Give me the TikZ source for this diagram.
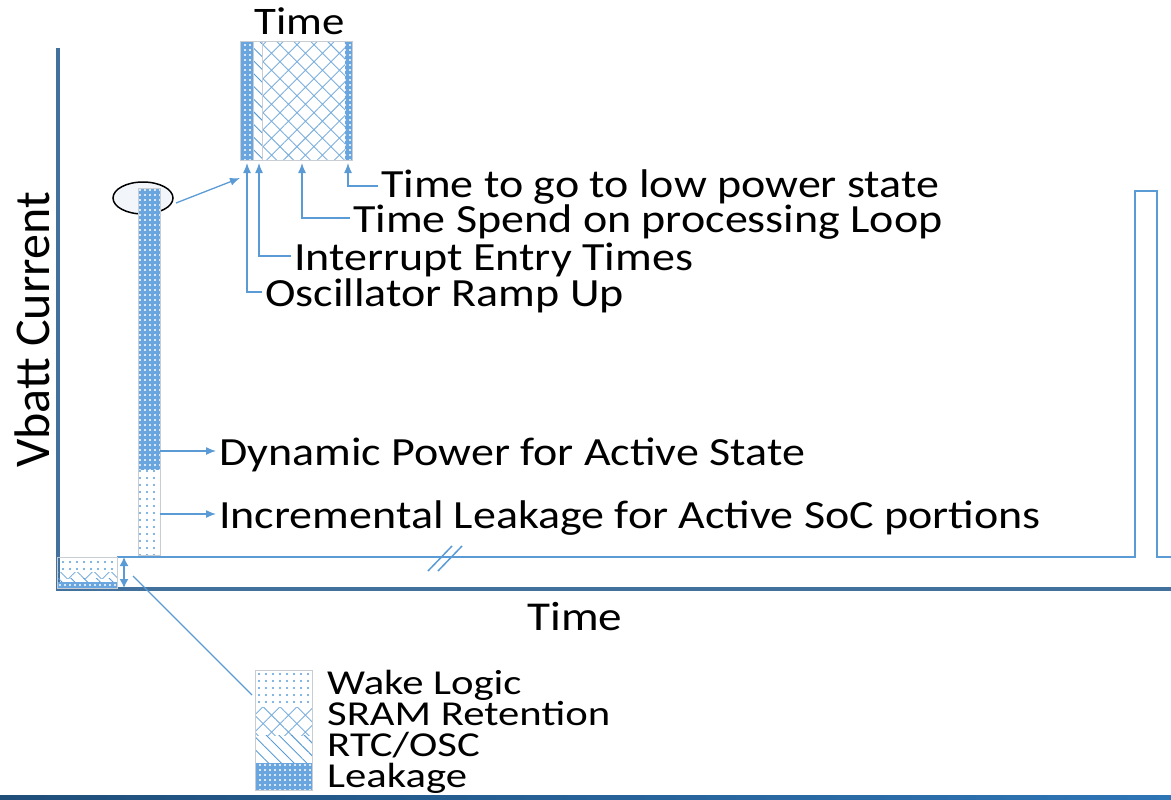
\documentclass[tikz,border=0pt]{standalone}
\usepackage{fontspec}
\setmainfont{Carlito}
\newfontfamily\widefont[FakeStretch=1.15]{Carlito}
\newfontfamily\legfont[FakeStretch=1.22]{Carlito}
\usetikzlibrary{patterns.meta,arrows.meta,positioning}

\definecolor{axisblue}{RGB}{65,113,156}
\definecolor{lineblue}{RGB}{91,155,213}
\definecolor{barblue}{RGB}{105,165,222}
\definecolor{edgegray}{RGB}{200,205,212}
\definecolor{palefill}{RGB}{242,246,251}
\definecolor{deepblue}{RGB}{31,78,121}
\definecolor{brightblue}{RGB}{46,117,182}

\tikzset{
  sig/.style={draw=lineblue, line width=1.5},
  callout/.style={draw=lineblue, line width=1.3, -{Latex[length=10,width=8]}},
  lbl/.style={font=\widefont\fontsize{40}{42}\selectfont, inner xsep=3, inner ysep=0, text height=28, text depth=0, anchor=west},
  legtext/.style={font=\legfont\fontsize{35}{37}\selectfont, inner xsep=2, inner ysep=0, text height=23, text depth=4, anchor=west},
  dense/.style={fill=barblue, postaction={pattern={Dots[distance=5pt,radius=1.1pt]}, pattern color=white}},
  dotty/.style={pattern={Dots[distance=7pt,radius=1.1pt]}, pattern color=lineblue},
  xhatch/.style={pattern={Hatch[angle=45,distance=12pt,line width=0.9pt]}, pattern color=lineblue!80},
  slant/.style={pattern={Lines[angle=-45,distance=9pt,line width=0.9pt]}, pattern color=lineblue},
  rim/.style={draw=edgegray, line width=1}
}

\begin{document}
\begin{tikzpicture}[x=1pt,y=-1pt]
\useasboundingbox (0,0) rectangle (1171,800);

% axes
\draw [axisblue, line width=4] (58,48) -- (58,589) -- (1171,589);

% baseline current with break and far spike
\draw [sig] (117,557) -- (1135,557) -- (1135,191) -- (1157,191) -- (1157,557) -- (1171,557);
\draw [sig] (428,571) -- (452,546);
\draw [sig] (438,571) -- (462,546);

% sleep floor box
\fill [dotty] (57,557) rectangle (117,572);
\fill [xhatch] (57,572) rectangle (117,578);
\fill [slant] (57,578) rectangle (117,582);
\fill [dense] (57,582) rectangle (117,588);
\draw [rim] (57,557) rectangle (117,588);
\coordinate (sleepTop) at (124,557);
\coordinate (sleepBot) at (124,588);
\draw [lineblue, line width=1.5, {Latex[length=9,width=9]}-{Latex[length=9,width=9]}] (sleepTop) -- (sleepBot);

% ellipse round the top of the active bar
\draw [black, line width=1.5, fill=palefill] (143,198) ellipse [x radius=30, y radius=16];

% active bar
\fill [dense] (138,188) rectangle (160,470);
\fill [dotty] (138,470) rectangle (160,555);
\draw [rim] (138,188) rectangle (160,555);

% zoomed bar
\fill [dense] (240,42) rectangle (253,160);
\fill [slant] (253,42) rectangle (262,160);
\fill [xhatch] (262,42) rectangle (345,160);
\fill [dense] (345,42) rectangle (352,160);
\draw [rim] (240,42) rectangle (352,160);
\draw [edgegray] (253,42) -- (253,160);
\draw [edgegray] (262,42) -- (262,160);
\node (tTop) at (300,21) [font=\widefont\fontsize{39}{41}\selectfont] {Time};

\coordinate (ellR) at (176,203);
\coordinate (zoomIn) at (240,178);
\draw [callout] (ellR) -- (zoomIn);

% phase labels
\node (tLow) at (378,186) [lbl, text height=22] {Time to go to low power state};
\node (tLoop) at (350,218) [lbl] {Time Spend on processing Loop};
\node (tIrq) at (291,256) [lbl] {Interrupt Entry Times};
\node (tOsc) at (262,292) [lbl] {Oscillator Ramp Up};
\coordinate (pLow) at (348,163);
\coordinate (pLoop) at (302,163);
\coordinate (pIrq) at (259,163);
\coordinate (pOsc) at (247,163);
\draw [callout] (tLow.west) -| (pLow);
\draw [callout] (tLoop.west) -| (pLoop);
\draw [callout] (tIrq.west) -| (pIrq);
\draw [callout] (tOsc.west) -| (pOsc);

% active bar labels
\node (tDyn) at (216,451) [lbl] {Dynamic Power for Active State};
\node (tLeak) at (216,514) [lbl] {Incremental Leakage for Active SoC portions};
\coordinate (bDyn) at (160,451);
\coordinate (bLeak) at (160,514);
\draw [callout] (bDyn) -- (tDyn.west);
\draw [callout] (bLeak) -- (tLeak.west);

% axis titles
\node (tTime) at (575,617) [font=\widefont\fontsize{41}{43}\selectfont] {Time};
\node (tVbatt) at (32,330) [font=\fontsize{50}{52}\selectfont, rotate=90] {Vbatt Current};

% legend
\fill [dotty] (255,670) rectangle (312,707);
\fill [xhatch] (255,707) rectangle (312,735);
\fill [slant] (255,735) rectangle (312,763);
\fill [dense] (255,763) rectangle (312,790);
\draw [rim] (255,670) rectangle (312,790);
\node (lgWake) at (325,685) [legtext] {Wake Logic};
\node (lgSram) at (325,716) [legtext] {SRAM Retention};
\node (lgRtc) at (325,747) [legtext] {RTC/OSC};
\node (lgLeak) at (325,778) [legtext] {Leakage};
\coordinate (sleepTip) at (133,576);
\coordinate (lgCorner) at (252,695);
\draw [lineblue, line width=1.3] (sleepTip) -- (lgCorner);

% footer band
\shade [left color=deepblue, right color=brightblue] (0,795) rectangle (1171,800);
\end{tikzpicture}
\end{document}
